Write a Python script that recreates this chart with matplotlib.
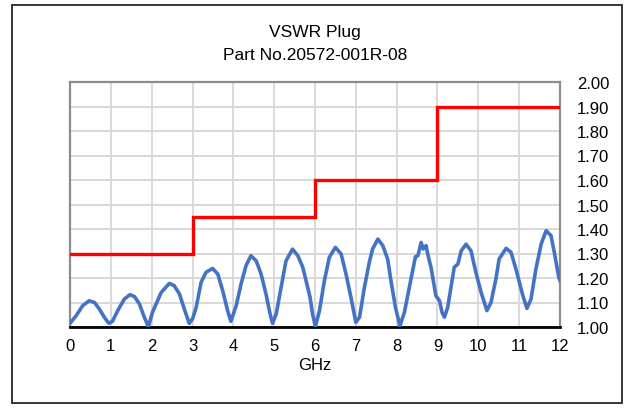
import matplotlib
matplotlib.use("Agg")
import matplotlib.pyplot as plt
from matplotlib.patches import Rectangle

# ---- data ----
limit_freq = [0, 3, 3, 6, 6, 9, 9, 12]
limit_vswr = [1.30, 1.30, 1.45, 1.45, 1.60, 1.60, 1.90, 1.90]

freq = [0.00, 0.15, 0.31, 0.47, 0.60, 0.72, 0.84, 0.95, 1.04, 1.17, 1.33, 1.47, 1.58, 1.70, 1.82, 1.92,
        2.02, 2.23, 2.43, 2.55, 2.68, 2.80, 2.92, 3.00, 3.09, 3.21, 3.33, 3.49, 3.62, 3.74, 3.86, 3.94,
        4.07, 4.19, 4.31, 4.43, 4.56, 4.68, 4.80, 4.90, 4.96, 5.05, 5.17, 5.29, 5.45, 5.58, 5.70, 5.82,
        5.88, 5.94, 6.01, 6.11, 6.23, 6.35, 6.50, 6.64, 6.76, 6.88, 7.00, 7.09, 7.21, 7.33, 7.41, 7.54,
        7.66, 7.78, 7.86, 7.97, 8.08, 8.19, 8.31, 8.46, 8.52, 8.60, 8.65, 8.72, 8.76, 8.84, 8.96, 9.05,
        9.11, 9.17, 9.25, 9.33, 9.41, 9.50, 9.58, 9.70, 9.82, 9.94, 10.07, 10.21, 10.31, 10.43, 10.51,
        10.68, 10.80, 10.92, 11.09, 11.19, 11.29, 11.41, 11.54, 11.66, 11.78, 11.86, 11.97, 12.00]
vswr = [1.015, 1.046, 1.087, 1.107, 1.100, 1.073, 1.040, 1.015, 1.023, 1.067, 1.114, 1.132, 1.124, 1.094, 1.040, 1.002,
        1.060, 1.140, 1.178, 1.169, 1.135, 1.073, 1.015, 1.033, 1.080, 1.182, 1.223, 1.239, 1.216, 1.148, 1.067, 1.023,
        1.087, 1.176, 1.250, 1.291, 1.270, 1.216, 1.135, 1.053, 1.015, 1.053, 1.162, 1.270, 1.318, 1.291, 1.244, 1.162,
        1.120, 1.053, 1.002, 1.067, 1.189, 1.284, 1.325, 1.298, 1.216, 1.121, 1.019, 1.040, 1.162, 1.264, 1.318, 1.359,
        1.332, 1.277, 1.189, 1.080, 1.005, 1.060, 1.162, 1.287, 1.291, 1.345, 1.318, 1.332, 1.298, 1.244, 1.128, 1.107,
        1.060, 1.040, 1.080, 1.162, 1.244, 1.257, 1.311, 1.338, 1.311, 1.223, 1.140, 1.067, 1.100, 1.196, 1.278,
        1.321, 1.305, 1.237, 1.128, 1.076, 1.114, 1.237, 1.339, 1.393, 1.373, 1.305, 1.203, 1.190]

x_ticks = list(range(0, 13))
y_ticks = [1.00, 1.10, 1.20, 1.30, 1.40, 1.50, 1.60, 1.70, 1.80, 1.90, 2.00]

title_lines = ["VSWR Plug", "Part No.20572-001R-08"]
x_label = "GHz"

# ---- figure ----
plt.rcParams['font.family'] = ['Liberation Sans', 'DejaVu Sans']
fig = plt.figure(figsize=(6.28, 4.10), dpi=100)
fig.patch.set_facecolor('white')
ax = fig.add_axes([70/628, 1-328/410, 490/628, 245/410])

ax.plot(limit_freq, limit_vswr, color='#ff0000', lw=2.4, zorder=3, solid_joinstyle='miter')
ax.plot(freq, vswr, color='#4472c4', lw=2.6, zorder=4, solid_joinstyle='round')

ax.set_xlim(0, 12)
ax.set_ylim(1.0, 2.0)
ax.set_xticks(x_ticks)
ax.set_xticklabels([str(t) for t in x_ticks])
ax.set_yticks(y_ticks)
ax.set_yticklabels([f"{t:.2f}" for t in y_ticks])
ax.yaxis.tick_right()
ax.tick_params(axis='both', length=0, labelsize=12, colors='#000000')
ax.tick_params(axis='x', pad=8)
ax.tick_params(axis='y', pad=12)
ax.grid(True, color='#d9d9d9', lw=1.4, zorder=0)
ax.set_axisbelow(True)

for s in ['left', 'top', 'right']:
    ax.spines[s].set_color('#8c8c8c')
    ax.spines[s].set_linewidth(1.6)
ax.spines['bottom'].set_color('#000000')
ax.spines['bottom'].set_linewidth(2.0)

ax.set_xlabel(x_label, fontsize=12, labelpad=3)

fig.text(315/628, 1-32/410, title_lines[0], ha='center', va='center', fontsize=12.5)
fig.text(315/628, 1-55/410, title_lines[1], ha='center', va='center', fontsize=12.5)

# outer frame
fig.patches.append(Rectangle((12/628, 1-404/410), 610/628, 398/410, transform=fig.transFigure,
                             fill=False, edgecolor='#262626', lw=1.3))

fig.savefig('out.png', dpi=100)
